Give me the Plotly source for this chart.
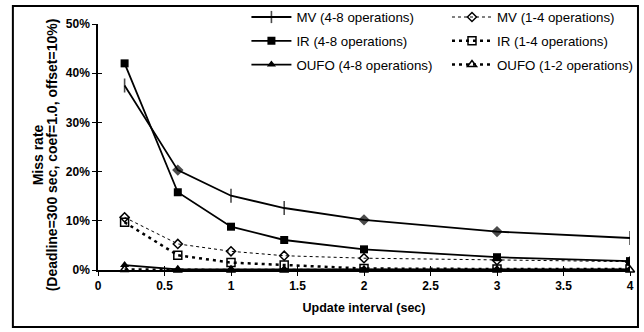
import plotly.graph_objects as go

# Update interval (sec)
intervals = [0.2, 0.6, 1.0, 1.4, 2.0, 3.0, 4.0]

# Miss rate (%) per scheme
mv_4_8 = [37.5, 20.3, 15.1, 12.6, 10.2, 7.8, 6.5]
mv_1_4 = [10.7, 5.3, 3.8, 2.9, 2.4, 2.0, 1.7]
ir_4_8 = [42.0, 15.8, 8.8, 6.1, 4.2, 2.6, 1.8]
ir_1_4 = [9.7, 3.0, 1.5, 1.0, 0.3, 0.2, 0.2]
oufo_4_8 = [1.0, 0.1, 0.1, 0.1, 0.1, 0.1, 0.1]
oufo_1_2 = [0.1, 0.0, 0.0, 0.0, 0.0, 0.0, 0.0]

names = ["MV (4-8 operations)", "MV (1-4 operations)",
         "IR (4-8 operations)", "IR (1-4 operations)",
         "OUFO (4-8 operations)", "OUFO (1-2 operations)"]

y_title_lines = ["Miss rate", "(Deadline=300 sec, coef=1.0, offset=10%)"]
x_title = "Update interval (sec)"

FONT = "Liberation Sans, Arial, sans-serif"
BLACK = "#000000"

def pct(vals):
    return [v / 100.0 for v in vals]

fig = go.Figure()

# heavier workload (4-8 operations): solid lines, first legend column
fig.add_trace(go.Scatter(
    x=intervals, y=pct(mv_4_8), name=names[0], mode="lines+markers",
    legend="legend", legendgroup="mv48",
    line=dict(color=BLACK, width=1.8),
    marker=dict(symbol=["line-ns", "diamond", "line-ns", "line-ns", "diamond", "diamond", "line-ns"],
                size=[10, 7, 10, 10, 7, 7, 10], color=BLACK,
                line=dict(color=BLACK, width=1.6)),
))
fig.add_trace(go.Scatter(
    x=intervals, y=pct(ir_4_8), name=names[2], mode="lines+markers",
    legend="legend", legendgroup="ir48",
    line=dict(color=BLACK, width=1.8),
    marker=dict(symbol="square", size=8, color=BLACK),
))
fig.add_trace(go.Scatter(
    x=intervals, y=pct(oufo_4_8), name=names[4], mode="lines+markers",
    legend="legend", legendgroup="oufo48",
    line=dict(color=BLACK, width=1.8),
    marker=dict(symbol="triangle-up", size=8, color=BLACK),
))

# lighter workload: dashed/dotted lines, second legend column
fig.add_trace(go.Scatter(
    x=intervals, y=pct(mv_1_4), name=names[1], mode="lines+markers",
    legend="legend2", legendgroup="mv14",
    line=dict(color=BLACK, width=1, dash="3px,3px"),
    marker=dict(symbol="diamond-open", size=7, color=BLACK, line=dict(width=1.5)),
))
fig.add_trace(go.Scatter(
    x=intervals, y=pct(ir_1_4), name=names[3], mode="lines+markers",
    legend="legend2", legendgroup="ir14",
    line=dict(color=BLACK, width=2.5, dash="3px,4px"),
    marker=dict(symbol="square-open", size=8, color=BLACK, line=dict(width=1.5)),
))
fig.add_trace(go.Scatter(
    x=intervals, y=pct(oufo_1_2), name=names[5], mode="lines+markers",
    legend="legend2", legendgroup="oufo12",
    line=dict(color=BLACK, width=2.5, dash="3px,4px"),
    marker=dict(symbol="triangle-up-open", size=8, color=BLACK, line=dict(width=1.5)),
    cliponaxis=False,
))

tick_font = dict(family=FONT, size=12, color=BLACK, weight="bold")
xtitle_font = dict(family=FONT, size=12.5, color=BLACK, weight="bold")
ytitle_font = dict(family=FONT, size=14, color=BLACK, weight="bold")
legend_common = dict(
    orientation="v", yanchor="top", xanchor="left",
    font=dict(family=FONT, size=13.3, color=BLACK),
    bgcolor="rgba(0,0,0,0)", itemwidth=40, tracegroupgap=3.5,
)

fig.update_layout(
    width=644, height=332,
    margin=dict(l=98, r=14, t=24, b=62, autoexpand=False),
    paper_bgcolor="white", plot_bgcolor="white",
    font=dict(family=FONT, color=BLACK),
    showlegend=True,
    legend=dict(x=0.279, y=1.090, **legend_common),
    legend2=dict(x=0.656, y=1.090, **legend_common),
    xaxis=dict(
        range=[0, 4], dtick=0.5, tick0=0,
        showgrid=False, zeroline=False,
        showline=True, linecolor=BLACK, linewidth=1.5,
        ticks="outside", ticklen=4, tickwidth=1.2, tickcolor=BLACK,
        tickfont=tick_font,
        title=dict(text=x_title, font=xtitle_font, standoff=11),
    ),
    yaxis=dict(
        range=[0, 0.5], dtick=0.1, tick0=0, tickformat=".0%",
        showgrid=False, zeroline=False,
        showline=True, linecolor=BLACK, linewidth=1.5,
        ticks="outside", ticklen=4, tickwidth=1.2, tickcolor=BLACK,
        tickfont=tick_font,
    ),
    # companion axes carrying the inner half of the cross tick marks
    xaxis2=dict(range=[0, 4], dtick=0.5, tick0=0, overlaying="x", anchor="y",
                ticks="inside", ticklen=4, tickwidth=1.2, tickcolor=BLACK,
                showticklabels=False, showgrid=False, zeroline=False, showline=False),
    yaxis2=dict(range=[0, 0.5], dtick=0.1, tick0=0, overlaying="y", anchor="x",
                ticks="inside", ticklen=4, tickwidth=1.2, tickcolor=BLACK,
                showticklabels=False, showgrid=False, zeroline=False, showline=False),
)

# an empty trace so the companion axes are drawn
fig.add_trace(go.Scatter(x=[None], y=[None], xaxis="x2", yaxis="y2",
                         showlegend=False, hoverinfo="skip"))

# two-line rotated y-axis title, set with tight line spacing
for line_text, xpos in zip(y_title_lines, [-0.1128, -0.0865]):
    fig.add_annotation(text=line_text, xref="paper", yref="paper",
                       x=xpos, y=0.47, xanchor="center", yanchor="middle",
                       textangle=-90, showarrow=False, font=ytitle_font)

# chart-area border
fig.add_shape(type="rect", xref="paper", yref="paper",
              x0=-0.160, x1=1.015, y0=-0.232, y1=1.073,
              line=dict(color=BLACK, width=2), fillcolor="rgba(0,0,0,0)", layer="below")

fig.write_html("out.html")
